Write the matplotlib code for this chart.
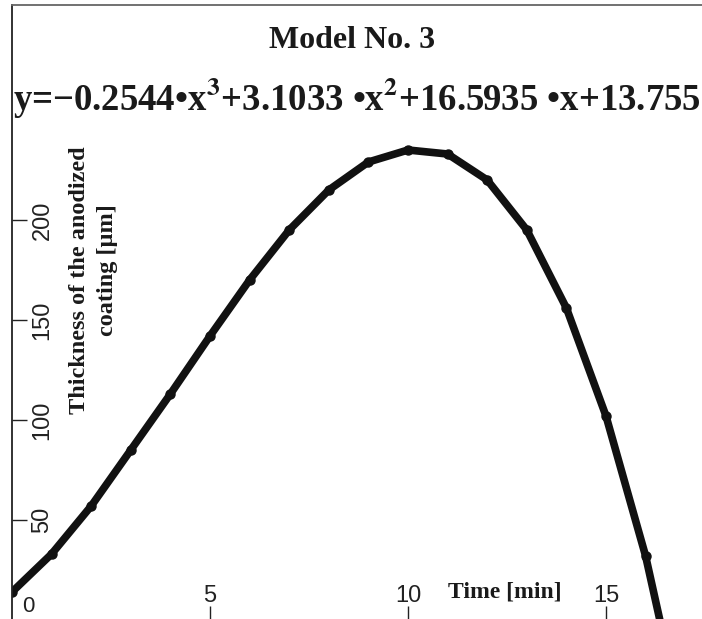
import matplotlib
matplotlib.use("Agg")
import matplotlib.pyplot as plt

# Time [min] and measured coating thickness [um]
czas = [0, 1, 2, 3, 4, 5, 6, 7, 8, 9, 10, 11, 12, 13, 14, 15, 16, 17]
grubosc = [14, 33, 57, 85, 113, 142, 170, 195, 215, 229, 235, 233, 220, 195, 156, 102, 32, -57]

x_ticks = [5, 10, 15]
y_ticks = [50, 100, 150, 200]

tytul = "Model No. 3"
rownanie = "y=\u22120.2544\u2022x$^3$+3.1033 \u2022x$^2$+16.5935 \u2022x+13.755"
opis_x = "Time [min]"
opis_y1 = "Thickness of the anodized"
opis_y2 = "coating [\u00b5m]"

plt.rcParams["mathtext.fontset"] = "stix"
plt.rcParams["mathtext.default"] = "bf"

W, H = 702, 619
fig = plt.figure(figsize=(W / 100, H / 100), dpi=100)
ax = fig.add_axes([12 / W, -1 / H, 1 - 12 / W, 1 - 4 / H])

ax.plot(czas, grubosc, color="#111111", lw=5.5, marker="o", ms=6.5,
        solid_joinstyle="round")

ax.set_xlim(0, (W - 12) / 39.6)
ax.set_ylim(0, (H + 1 - 5) / 2.0)

# ramka: lewa os i gorna linia
for s in ["right", "bottom"]:
    ax.spines[s].set_visible(False)
ax.spines["left"].set_color("#222222")
ax.spines["left"].set_linewidth(1.3)
ax.spines["top"].set_color("#666666")
ax.spines["top"].set_linewidth(1.3)

ax.set_xticks(x_ticks)
ax.set_xticklabels([str(v) for v in x_ticks])
ax.set_yticks(y_ticks)
ax.set_yticklabels([str(v) for v in y_ticks])

ax.tick_params(axis="x", direction="in", length=10, width=1, color="#222222",
               pad=-13, labelsize=17, labelcolor="#222222")
ax.tick_params(axis="y", direction="in", length=11, width=1, color="#222222",
               pad=-14, labelsize=17, labelcolor="#222222")
for t in ax.get_xticklabels():
    t.set_fontfamily("Liberation Sans")
    t.set_va("baseline")
for t in ax.get_yticklabels():
    t.set_fontfamily("Liberation Sans")
    t.set_rotation(90)
    t.set_ha("left")
    t.set_va("center")

ax.annotate("0", xy=(0, 0), xytext=(7, 1.8), textcoords="offset points",
            ha="left", va="bottom", fontsize=16, color="#222222",
            family="Liberation Sans")

serif = dict(family="Liberation Serif", weight="bold", color="#1a1a1a")
fig.text(352 / W, 1 - 40 / H, tytul, ha="center", va="center", fontsize=23, **serif)
fig.text(13 / W, 1 - 98 / H, rownanie, ha="left", va="center", fontsize=26.5, **serif)
fig.text(505 / W, 1 - 592 / H, opis_x, ha="center", va="center", fontsize=17, **serif)
fig.text(80 / W, 1 - 280 / H, opis_y1, ha="center", va="center", rotation=90,
         fontsize=17.5, **serif)
fig.text(108 / W, 1 - 270 / H, opis_y2, ha="center", va="center", rotation=90,
         fontsize=17.5, **serif)

fig.savefig("out.png", dpi=100)
